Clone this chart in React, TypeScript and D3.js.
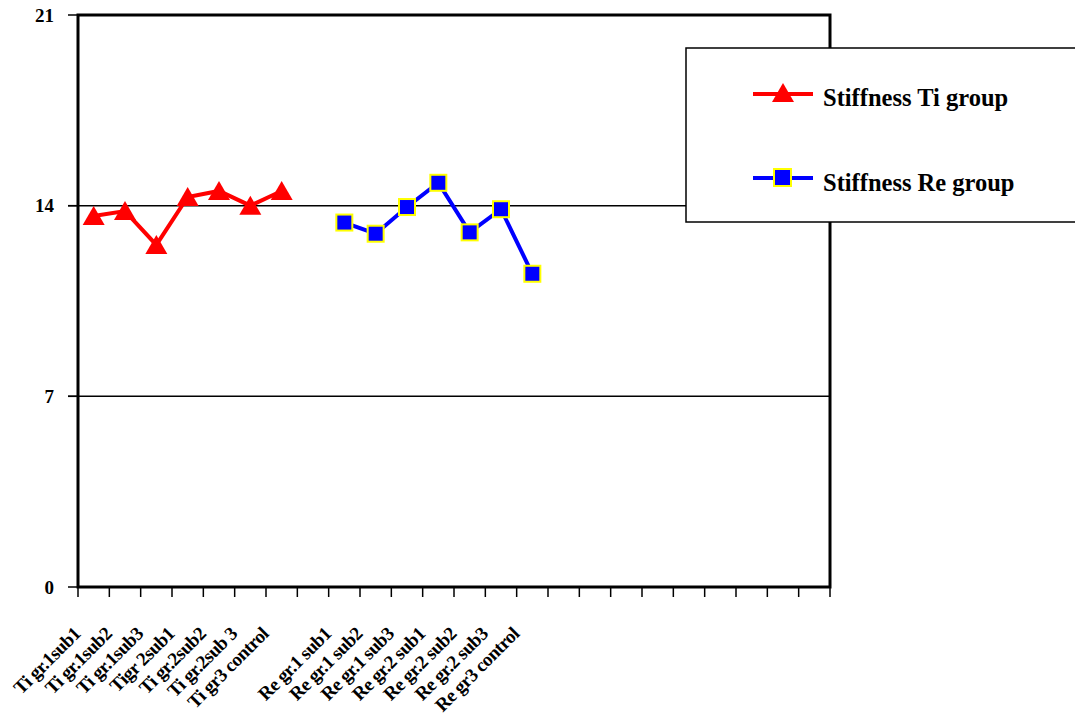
import React from "react";
import * as d3 from "d3";

const categories: string[] = [
  "Ti gr.1sub1", "Ti gr.1sub2", "Ti gr.1sub3", "Tigr 2sub1", "Ti gr.2sub2", "Ti gr.2sub 3", "Ti gr3 control",
  "",
  "Re gr.1 sub1", "Re gr.1 sub2", "Re gr.1 sub3", "Re gr.2 sub1", "Re gr.2 sub2", "Re gr.2 sub3", "Re gr3 control",
  "", "", "", "", "", "", "", "", "",
];
const tiValues: (number | null)[] = [13.62, 13.8, 12.56, 14.32, 14.54, 14.0, 14.54];
const reValues: (number | null)[] = [13.38, 12.97, 13.95, 14.84, 13.02, 13.87, 11.5];
const tiOffset = 0;
const reOffset = 8;
const yTicks = [0, 7, 14, 21];
const gridValues = [7, 14];
const seriesNames = ["Stiffness Ti group", "Stiffness Re group"];

const FONT = "'Liberation Serif', 'Times New Roman', serif";

export default function App() {
  const left = 78, right = 830, top = 15, bottom = 587;
  const x = d3.scaleBand<number>().domain(d3.range(categories.length)).range([left, right]).padding(0);
  const y = d3.scaleLinear().domain([0, 21]).range([bottom, top]);
  const cx = (i: number) => (x(i) as number) + x.bandwidth() / 2;

  const tiPts = tiValues.map((v, i) => ({ i: i + tiOffset, v })).filter((d) => d.v != null) as { i: number; v: number }[];
  const rePts = reValues.map((v, i) => ({ i: i + reOffset, v })).filter((d) => d.v != null) as { i: number; v: number }[];
  const line = d3.line<{ i: number; v: number }>().x((d) => cx(d.i)).y((d) => y(d.v));

  const tri = (px: number, py: number) => {
    const w = 11, h = 10;
    return `M${px},${py - h}L${px + w},${py + h - 1}L${px - w},${py + h - 1}Z`;
  };

  const boundaries = d3.range(categories.length + 1).map((i) => left + i * x.bandwidth());

  return (
    <svg width={1075} height={720} style={{ position: "absolute", left: 0, top: 0, background: "#fff" }}>
      <rect x={0} y={0} width={1075} height={720} fill="#fff" />
      {gridValues.map((g) => (
        <line key={g} x1={68} x2={right} y1={y(g)} y2={y(g)} stroke="#000" strokeWidth={1.5} />
      ))}
      {yTicks.map((t) => (
        <g key={t}>
          <line x1={68} x2={left} y1={y(t)} y2={y(t)} stroke="#000" strokeWidth={1.5} />
          <text x={54} y={y(t)} dy="0.35em" textAnchor="end" fontFamily={FONT} fontWeight="bold" fontSize={19}>
            {t}
          </text>
        </g>
      ))}
      {boundaries.map((b, i) => (
        <line key={i} x1={b} x2={b} y1={bottom} y2={bottom + 10} stroke="#000" strokeWidth={1.5} />
      ))}
      <rect x={left} y={top} width={right - left} height={bottom - top} fill="none" stroke="#000" strokeWidth={3} />
      {categories.map((c, i) =>
        c ? (
          <text
            key={i}
            transform={`translate(${cx(i) - 12},${635}) rotate(-45)`}
            textAnchor="end"
            fontFamily={FONT}
            fontWeight="bold"
            fontSize={19}
            letterSpacing={-0.5}
          >
            {c}
          </text>
        ) : null
      )}
      <path d={line(tiPts) || ""} fill="none" stroke="#ff0000" strokeWidth={4} />
      {tiPts.map((d) => (
        <path key={d.i} d={tri(cx(d.i), y(d.v))} fill="#ff0000" />
      ))}
      <path d={line(rePts) || ""} fill="none" stroke="#0000ff" strokeWidth={4} />
      {rePts.map((d) => (
        <rect key={d.i} x={cx(d.i) - 8} y={y(d.v) - 8} width={16} height={16} fill="#0000ff" stroke="#ffff00" strokeWidth={2} />
      ))}
      <rect x={686} y={48} width={400} height={174} fill="#fff" stroke="#000" strokeWidth={1.5} />
      <line x1={753} x2={813} y1={94} y2={94} stroke="#ff0000" strokeWidth={4} />
      <path d={tri(783, 93)} fill="#ff0000" />
      <text x={823} y={106} fontFamily={FONT} fontWeight="bold" fontSize={24.5}>
        {seriesNames[0]}
      </text>
      <line x1={753} x2={813} y1={178} y2={178} stroke="#0000ff" strokeWidth={4} />
      <rect x={774} y={169} width={17} height={17} fill="#0000ff" stroke="#ffff00" strokeWidth={2} />
      <text x={823} y={191} fontFamily={FONT} fontWeight="bold" fontSize={24.5}>
        {seriesNames[1]}
      </text>
    </svg>
  );
}
